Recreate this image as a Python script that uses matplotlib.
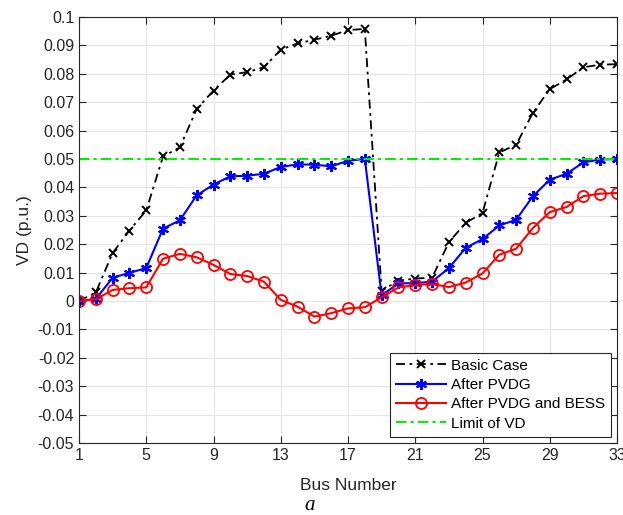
import matplotlib.pyplot as plt
import numpy as np

buses = np.arange(1, 34)

# voltage deviation per bus (p.u.)
vd_basic = [0.0, 0.003, 0.0169, 0.0248, 0.0319, 0.0509, 0.0541, 0.0676, 0.0741, 0.0797,
            0.0806, 0.0823, 0.0885, 0.0907, 0.092, 0.0934, 0.0954, 0.0958, 0.0036, 0.0072,
            0.0079, 0.0082, 0.0207, 0.0275, 0.031, 0.0523, 0.055, 0.0663, 0.0746, 0.078,
            0.0823, 0.0832, 0.0834]
vd_pvdg = [0.0, 0.0007, 0.0082, 0.0099, 0.0116, 0.0255, 0.0284, 0.0372, 0.041, 0.0439,
           0.0441, 0.0448, 0.0472, 0.0481, 0.048, 0.0474, 0.0494, 0.05, 0.002, 0.0062,
           0.0063, 0.0068, 0.0116, 0.0187, 0.0218, 0.0266, 0.0286, 0.0369, 0.0427, 0.0448,
           0.0488, 0.0498, 0.05]
vd_bess = [0.0, 0.0006, 0.0039, 0.0045, 0.0048, 0.0149, 0.0166, 0.0154, 0.0127, 0.0095,
           0.0088, 0.0068, 0.0004, -0.002, -0.0055, -0.0043, -0.0026, -0.0022, 0.0013, 0.0048,
           0.0056, 0.006, 0.0049, 0.0065, 0.0097, 0.0163, 0.0184, 0.0257, 0.0313, 0.0331,
           0.0369, 0.0378, 0.038]
vd_limit = 0.05

plt.rcParams['font.family'] = ['Liberation Sans', 'DejaVu Sans']

fig = plt.figure(figsize=(6.23, 5.15), dpi=100)
ax = fig.add_axes([79 / 623, 1 - 443 / 515, 538 / 623, 426 / 515])

ax.plot(buses, vd_basic, color='black', linestyle=(0, (5, 2.5, 1.5, 2.5)), linewidth=1.3,
        marker='x', markersize=6, markeredgewidth=1.4, label='Basic Case')
ax.plot(buses, vd_pvdg, color='blue', linestyle='-', linewidth=1.5, marker=(6, 2, 0),
        markersize=8, markeredgewidth=1.5, label='After PVDG')
ax.plot(buses, vd_bess, color='red', linestyle='-', linewidth=1.5, marker='o',
        markersize=8, markerfacecolor='none', markeredgewidth=1.3, label='After PVDG and BESS')
ax.axhline(vd_limit, color='#00ee00', linestyle=(0, (5, 2, 1.5, 2)), linewidth=1.5,
           label='Limit of VD')

ax.set_xlim(1, 33)
ax.set_ylim(-0.05, 0.1)
ax.set_xticks(np.arange(1, 34, 4))
yt = np.round(np.arange(-0.05, 0.1001, 0.01), 2)
ax.set_yticks(yt)
ax.set_yticklabels(['0' if v == 0 else ('%g' % v) for v in yt])
ax.tick_params(direction='in', top=True, right=True, labelsize=11.5, colors='#262626',
               length=5)
ax.grid(True, color='#e6e6e6', linewidth=0.8)
ax.set_axisbelow(True)
for s in ax.spines.values():
    s.set_color('#262626')

ax.set_xlabel('Bus Number', fontsize=12.5, color='#262626', labelpad=11)
ax.set_ylabel('VD (p.u.)', fontsize=12.5, color='#262626')

leg = ax.legend(loc='lower right', fontsize=11, fancybox=False, edgecolor='#262626',
                framealpha=1, handlelength=3.3, borderpad=0.4, labelspacing=0.35,
                handletextpad=0.3, borderaxespad=0.4)
leg.get_frame().set_linewidth(0.8)

fig.text(310 / 623, 1 - 505 / 515, 'a', family='Liberation Serif', style='italic',
         fontsize=15, ha='center', va='center')

fig.savefig('out.png', dpi=100)
